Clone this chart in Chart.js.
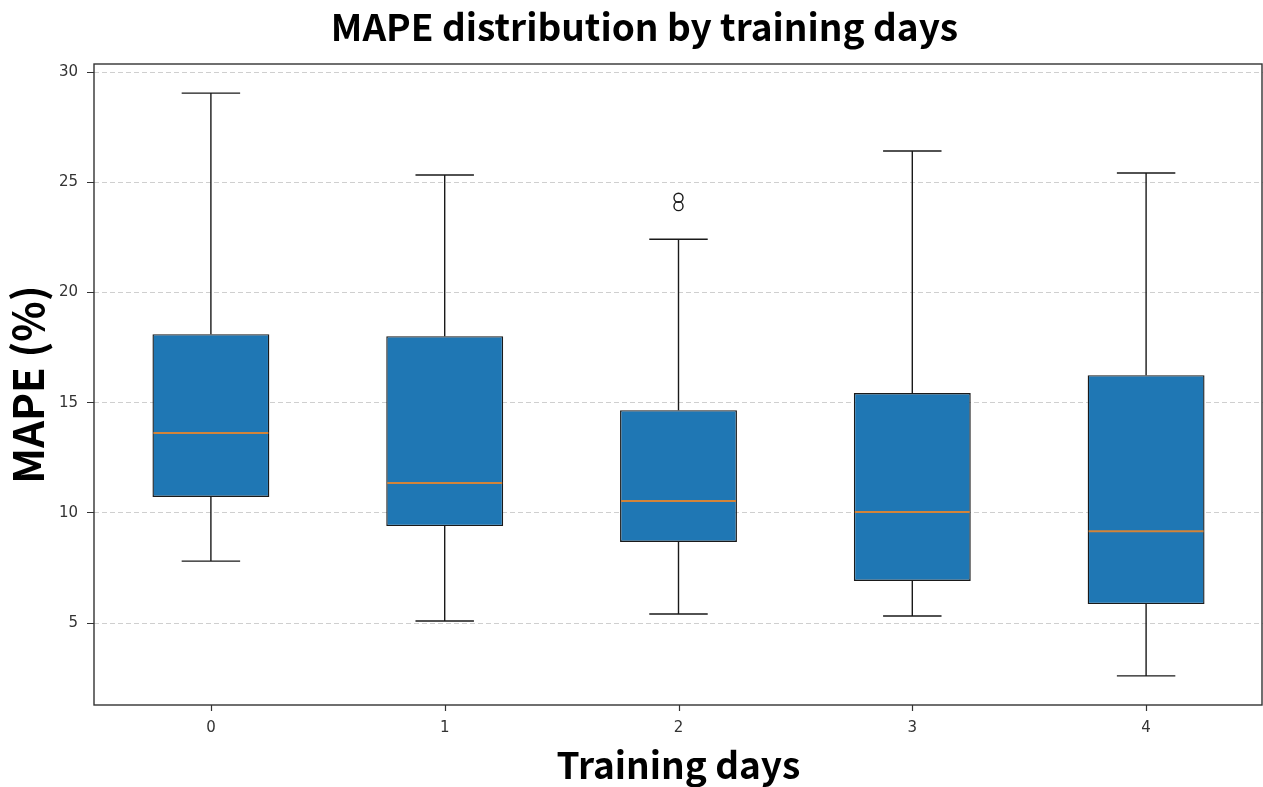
<!DOCTYPE html>
<html>
<head>
<meta charset="utf-8">
<script src="https://cdn.jsdelivr.net/npm/chart.js@4/dist/chart.umd.min.js"></script>
<style>
  html, body { margin: 0; padding: 0; background: #fff; }
  #wrap { width: 1263px; height: 787px; }
</style>
</head>
<body>
<div id="wrap"><canvas id="boxChart"></canvas></div>
<script>
// --- DATA ---
const categories = ['0', '1', '2', '3', '4'];
const whiskerLow = [7.81, 5.09, 5.41, 5.32, 2.60];
const q1 = [10.72, 9.40, 8.68, 6.91, 5.86];
const medians = [13.62, 11.35, 10.54, 10.04, 9.17];
const q3 = [18.11, 18.02, 14.66, 15.44, 16.25];
const whiskerHigh = [29.05, 25.33, 22.42, 26.42, 25.42];
const outlierCats = ['2', '2'];
const outlierVals = [24.30, 23.92];
const yTicks = [5, 10, 15, 20, 25, 30];

// Colours
const colors = {
    box: '#1f77b4',
    edge: '#1a1a1a',
    median: '#d2843a',
    grid: '#cfcfcf',
    spine: '#333333'
};

const titleFont = "'Noto Sans CJK JP', 'Noto Sans', sans-serif";
const tickFont = "'DejaVu Sans', sans-serif";

// whiskers, caps and medians, drawn through the chart's scales
const boxExtras = {
    id: 'boxExtras',
    afterDatasetsDraw(chart) {
        const { ctx, scales: { x, y } } = chart;
        const step = x.getPixelForValue(1) - x.getPixelForValue(0);
        const capHalf = step * 0.125;
        const boxHalf = step * 0.25;
        ctx.save();
        ctx.lineWidth = 1.4;
        ctx.strokeStyle = colors.edge;
        categories.forEach((c, i) => {
            const px = x.getPixelForValue(i);
            ctx.beginPath();
            ctx.moveTo(px, y.getPixelForValue(q3[i]));
            ctx.lineTo(px, y.getPixelForValue(whiskerHigh[i]));
            ctx.moveTo(px, y.getPixelForValue(q1[i]));
            ctx.lineTo(px, y.getPixelForValue(whiskerLow[i]));
            ctx.moveTo(px - capHalf, y.getPixelForValue(whiskerHigh[i]));
            ctx.lineTo(px + capHalf, y.getPixelForValue(whiskerHigh[i]));
            ctx.moveTo(px - capHalf, y.getPixelForValue(whiskerLow[i]));
            ctx.lineTo(px + capHalf, y.getPixelForValue(whiskerLow[i]));
            ctx.stroke();
        });
        ctx.strokeStyle = colors.median;
        ctx.lineWidth = 2;
        categories.forEach((c, i) => {
            const px = x.getPixelForValue(i);
            const my = y.getPixelForValue(medians[i]);
            ctx.beginPath();
            ctx.moveTo(px - boxHalf + 1, my);
            ctx.lineTo(px + boxHalf - 1, my);
            ctx.stroke();
        });
        ctx.restore();
    },
    // frame (all four spines) and x tick marks
    afterDraw(chart) {
        const { ctx, chartArea, scales: { x } } = chart;
        ctx.save();
        ctx.strokeStyle = colors.spine;
        ctx.lineWidth = 1.2;
        categories.forEach((c, i) => {
            const px = Math.round(x.getPixelForValue(i)) + 0.5;
            ctx.beginPath();
            ctx.moveTo(px, chartArea.bottom);
            ctx.lineTo(px, chartArea.bottom + 6);
            ctx.stroke();
        });
        ctx.lineWidth = 1.4;
        ctx.strokeRect(chartArea.left, chartArea.top, chartArea.right - chartArea.left - 1, chartArea.bottom - chartArea.top);
        ctx.restore();
    }
};

const ctx = document.getElementById('boxChart').getContext('2d');
new Chart(ctx, {
    type: 'bar',
    data: {
        labels: categories,
        datasets: [
            {
                label: 'IQR',
                data: categories.map((c, i) => [q1[i], q3[i]]),
                backgroundColor: colors.box,
                borderColor: colors.edge,
                borderWidth: 1.4,
                borderSkipped: false,
                barPercentage: 0.5,
                categoryPercentage: 1.0
            },
            {
                type: 'line',
                label: 'Outliers',
                data: outlierCats.map((c, i) => ({ x: c, y: outlierVals[i] })),
                showLine: false,
                pointStyle: 'circle',
                pointRadius: 4.5,
                pointBackgroundColor: 'rgba(0,0,0,0)',
                pointBorderColor: colors.edge,
                pointBorderWidth: 1.4
            }
        ]
    },
    options: {
        responsive: true,
        maintainAspectRatio: false,
        animation: false,
        layout: { autoPadding: false, padding: { left: 26, right: 0, top: 0, bottom: 0 } },
        plugins: {
            legend: { display: false },
            tooltip: { enabled: false },
            title: {
                display: true,
                text: 'MAPE distribution by training days',
                color: '#000',
                font: { family: titleFont, size: 37, weight: 'bold', lineHeight: 1.2 },
                padding: { top: 5, bottom: 14.6 }
            }
        },
        scales: {
            x: {
                type: 'category',
                offset: true,
                grid: { display: false },
                border: { display: false },
                ticks: { color: '#333', font: { family: tickFont, size: 15 }, padding: 6 },
                title: {
                    display: true,
                    text: 'Training days',
                    color: '#000',
                    font: { family: titleFont, size: 37, weight: 'bold', lineHeight: 1.2 },
                    padding: { top: 0, bottom: 0 }
                },
                afterFit(scale) {
                    scale.height = 82;
                    scale.paddingLeft = 0;
                    scale.paddingRight = 0;
                }
            },
            y: {
                min: 1.28,
                max: 30.37,
                afterBuildTicks(scale) { scale.ticks = yTicks.map(v => ({ value: v })); },
                grid: {
                    color: colors.grid,
                    lineWidth: 1,
                    drawTicks: true,
                    tickLength: 7,
                    tickColor: colors.spine,
                    tickWidth: 1
                },
                border: { display: false, dash: [5, 3] },
                ticks: { color: '#333', font: { family: tickFont, size: 15 }, padding: 9 },
                title: {
                    display: true,
                    text: 'MAPE (%)',
                    color: '#000',
                    font: { family: titleFont, size: 42, weight: 'bold', lineHeight: 1.0 },
                    padding: { top: -19, bottom: 0 }
                },
                afterFit(scale) { scale.width = 68; }
            }
        }
    },
    plugins: [boxExtras]
});
</script>
</body>
</html>
